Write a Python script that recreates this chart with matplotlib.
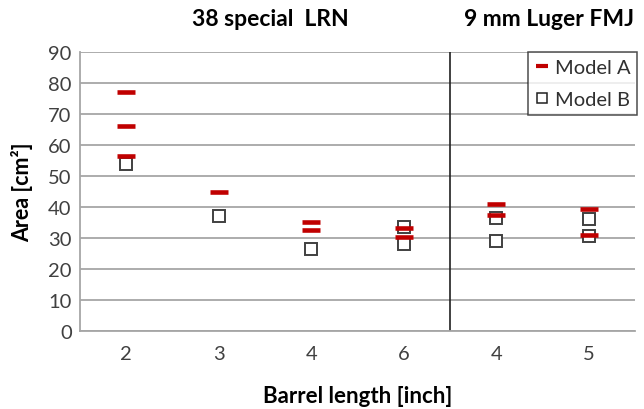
import matplotlib
matplotlib.use("Agg")
import matplotlib.pyplot as plt
from matplotlib.lines import Line2D
import numpy as np

plt.rcParams['font.family'] = ['Lato', 'DejaVu Sans']

categories = ['2', '3', '4', '6', '4', '5']
# Model A values (red dashes), grouped by category index
model_a_idx = [0, 0, 0, 1, 2, 2, 3, 3, 4, 4, 5, 5]
model_a_val = [77, 66, 56.5, 45, 35.3, 32.7, 33.2, 30.2, 41.1, 37.4, 39.4, 31.0]
# Model B values (open squares)
model_b_idx = [0, 1, 2, 3, 3, 4, 4, 5, 5]
model_b_val = [54, 37, 26.5, 33.6, 28.1, 36.3, 29.1, 36.1, 30.7]
group_titles = ['38 special  LRN', '9 mm Luger FMJ']
series_names = ['Model A', 'Model B']

red = '#c00000'
sq_edge = '#404040'

fig = plt.figure(figsize=(6.44, 4.10), dpi=100)
ax = fig.add_axes([80/644, 1-332/410, (635-80)/644, (332-53)/410])

ax.set_xlim(-0.5, 5.5)
ax.set_ylim(0, 90)
ax.set_yticks(np.arange(0, 91, 10))
ax.set_xticks(range(len(categories)))
ax.set_xticklabels(categories)
ax.grid(axis='y', color='#a6a6a6', linewidth=1.3)
ax.set_axisbelow(True)
for s in ['top', 'right']:
    ax.spines[s].set_visible(False)
for s in ['left', 'bottom']:
    ax.spines[s].set_color('#a6a6a6')
    ax.spines[s].set_linewidth(1.3)
ax.tick_params(length=0, labelsize=14.5, colors='#404040')
ax.tick_params(axis='x', pad=10)
ax.tick_params(axis='y', pad=6)

ax.axvline(3.5, color='#202020', linewidth=1.2)

ax.plot(model_b_idx, model_b_val, linestyle='none', marker='s', markersize=9.3,
        markerfacecolor='white', markeredgecolor=sq_edge, markeredgewidth=1.4,
        zorder=3)
ax.plot(model_a_idx, model_a_val, linestyle='none', marker='_', markersize=12.8,
        markeredgewidth=3.3, color=red, zorder=4)

handles = [
    Line2D([], [], linestyle='none', marker='_', markersize=8.5,
           markeredgewidth=3, color=red),
    Line2D([], [], linestyle='none', marker='s', markersize=7.5,
           markerfacecolor='white', markeredgecolor='#202020', markeredgewidth=1.1),
]
leg = ax.legend(handles, series_names, loc='upper right',
                bbox_to_anchor=(1.004, 1.0), fontsize=14.5, frameon=True,
                fancybox=False, edgecolor='#202020', handlelength=0.7,
                handletextpad=0.25, borderpad=0.35, labelspacing=0.75,
                borderaxespad=0)
leg.get_frame().set_linewidth(1.1)
for t in leg.get_texts():
    t.set_color('#303030')

ax.set_ylabel('Area [cm²]', fontsize=15.5, fontweight='bold')
ax.yaxis.set_label_coords(-0.085, 0.5)
ax.set_xlabel('Barrel length [inch]', fontsize=16, fontweight='bold')
ax.xaxis.set_label_coords(0.5, -0.195)

fig.text(270/644, 1-20/410, group_titles[0], fontsize=16.5, fontweight='bold',
         ha='center', va='center')
fig.text(549/644, 1-20/410, group_titles[1], fontsize=16.5, fontweight='bold',
         ha='center', va='center')

fig.savefig('out.png', dpi=100)
